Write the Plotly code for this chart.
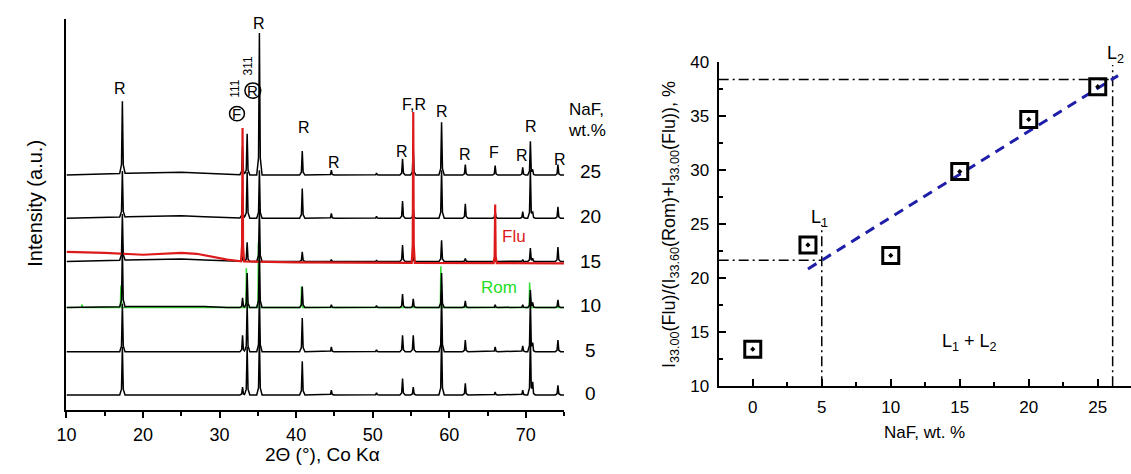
import numpy as np
import plotly.graph_objects as go

W, H = 1131, 474
FONT = "Arial, Liberation Sans, sans-serif"

# ---------------- Left panel data (XRD patterns, intensity in a.u.) ----------------
naf_levels = ["0", "5", "10", "15", "20", "25"]
baselines = [16, 61, 107, 155, 200, 245]          # vertical offset of each pattern

peak_pos = [17.3, 33.0, 33.6, 35.2, 40.8, 44.6, 50.5, 53.9, 55.3, 59.0, 62.1, 66.0, 69.6, 70.6, 70.9, 74.2]
h_0  = [50,  8, 50,  60, 35, 5, 2, 17,  8, 60, 12,  3, 5, 60, 12, 10]
h_5  = [50, 17, 50,  60, 35, 5, 2, 17, 17, 60, 12,  5, 6, 55,  8, 12]
h_10 = [60, 10, 36,  60, 22, 3, 2, 14,  9, 36,  7,  3, 3, 18,  5,  8]
h_15 = [48,  5, 20,  55, 10, 2, 1, 17,  5, 22,  3,  2, 2, 14,  3, 15]
h_20 = [48, 25, 48,  50, 31, 5, 2, 18, 10, 50, 15,  7, 7, 50,  6, 12]
h_25 = [75, 30, 43, 148, 25, 5, 2, 17, 28, 55, 11, 10, 8, 35,  5, 11]
heights = [h_0, h_5, h_10, h_15, h_20, h_25]

hump_x = [10, 14, 18, 22, 25, 28, 31, 34, 75]
hump_0  = [0, 0, 0, 0, 0, 0, 0, 0, 0]
hump_5  = [0, 0, 0, 0, 0, 0, 0, 0, 0]
hump_10 = [0, 0, 1, 1.2, 1.2, 1, 0, 0, 0]
hump_15 = [0, 0.5, 1.5, 2.5, 2.5, 1.5, 0.5, 0, 0]
hump_20 = [0, 0.5, 1.5, 2.5, 2.5, 1.5, 0.5, 0, 0]
hump_25 = [0, 1, 2, 3, 3, 2, 0.8, 0, 0]
humps = [hump_0, hump_5, hump_10, hump_15, hump_20, hump_25]

# Flu reference (red)
flu_base = 154
flu_bg_x = [10, 15, 20, 23, 25, 27, 29, 31, 33, 35, 40, 75]
flu_bg_y = [11, 10, 8, 9, 10, 9, 6, 3, 1, 0.5, 0, -1]
flu_pos = [33.0, 55.3, 66.0]
flu_h = [139, 157, 61]

# Rom reference (green)
rom_base = 107
rom_bg_x = [10, 75]
rom_bg_y = [0, 0]
rom_pos = [12.0, 17.1, 33.5, 35.07, 40.7, 58.9, 70.5]
rom_h = [3, 23, 41, 68, 22, 43, 26]

# ---------------- Right panel data ----------------
naf_wt = [0, 4, 10, 15, 20, 25]
ratio = [13.43, 23.07, 22.1, 29.85, 34.67, 37.7]
fit_x = [4.0, 26.47]
fit_y = [20.85, 38.72]
guide_x = [5.0, 26.08]       # L1, L2 compositions
guide_y = [21.65, 38.37]     # corresponding ratio levels
guide_top = [24.9, 39.7]     # top ends of vertical guides
X2_RANGE = [-2.47, 27.41]
Y2_RANGE = [10, 40]


def pattern(base, bx, by, pos, hts, hw=0.35):
    offs = np.array([-hw, -hw / 3, 0, hw / 3, hw])
    fr = np.array([0, 0.12, 1, 0.12, 0])
    xs = set(bx)
    for p in pos:
        xs.update((p + offs).tolist())
    xs = np.array(sorted(xs))
    ys = base + np.interp(xs, bx, by)
    for p, h in zip(pos, hts):
        ys = ys + h * np.interp(xs, p + offs, fr, left=0, right=0)
    return xs, ys


fig = go.Figure()

def add_line(xs, ys, color, width):
    fig.add_trace(go.Scatter(x=xs, y=ys, mode="lines", line=dict(color=color, width=width),
                             xaxis="x", yaxis="y", showlegend=False, hoverinfo="skip"))

# green Rom reference (under everything)
gx, gy = pattern(rom_base, rom_bg_x, rom_bg_y, rom_pos, rom_h, hw=0.15)
add_line(gx, gy, "#33dd33", 1.5)

# upper black patterns 25, 20, 15
for i in [5, 4, 3]:
    x, y = pattern(baselines[i], hump_x, humps[i], peak_pos, heights[i])
    add_line(x, y, "black", 1.5)

# red Flu reference
rx, ry = pattern(flu_base, flu_bg_x, flu_bg_y, flu_pos, flu_h, hw=0.2)
add_line(rx, ry, "#dd1a1a", 2.2)

# lower black patterns 10, 5, 0
for i in [2, 1, 0]:
    x, y = pattern(baselines[i], hump_x, humps[i], peak_pos, heights[i])
    add_line(x, y, "black", 1.5)

# ---------------- Right panel traces ----------------
dd = "10px,4px,2px,4px"
for gxv, gyv, gt in zip(guide_x, guide_y, guide_top):
    fig.add_trace(go.Scatter(x=[X2_RANGE[0], gxv], y=[gyv, gyv], mode="lines",
                             line=dict(color="black", width=1.5, dash=dd),
                             xaxis="x2", yaxis="y2", showlegend=False, hoverinfo="skip"))
    fig.add_trace(go.Scatter(x=[gxv, gxv], y=[Y2_RANGE[0], gt], mode="lines",
                             line=dict(color="black", width=1.5, dash=dd),
                             xaxis="x2", yaxis="y2", showlegend=False, hoverinfo="skip"))

fig.add_trace(go.Scatter(x=fit_x, y=fit_y, mode="lines",
                         line=dict(color="#1e1ea8", width=3, dash="10px,7px"),
                         xaxis="x2", yaxis="y2", showlegend=False, hoverinfo="skip"))
fig.add_trace(go.Scatter(x=naf_wt, y=ratio, mode="markers",
                         marker=dict(symbol="square-open-dot", size=16, color="black",
                                     line=dict(color="black", width=3)),
                         xaxis="x2", yaxis="y2", showlegend=False, hoverinfo="skip"))

# ---------------- Layout ----------------
L_X0, L_X1, L_YTOP, L_YBOT = 57, 559, 10, 418
R_X0, R_YTOP, R_YBOT = 715, 55, 393

axis_common = dict(showgrid=False, zeroline=False, linecolor="black", linewidth=2,
                   showline=True, tickcolor="black")

fig.update_layout(
    width=W, height=H, margin=dict(l=0, r=0, t=0, b=0),
    paper_bgcolor="white", plot_bgcolor="white",
    xaxis=dict(domain=[L_X0 / W, L_X1 / W], range=[10, 75], anchor="y",
               ticks="outside", ticklen=6, tickwidth=1.5, dtick=10, tick0=10,
               ticklabelstandoff=1,
               tickfont=dict(family=FONT, size=18, color="black"),
               minor=dict(ticks="outside", ticklen=4, tickwidth=1.5, dtick=5, tick0=10,
                          tickcolor="black"),
               **axis_common),
    yaxis=dict(domain=[1 - L_YBOT / H, 1 - L_YTOP / H], range=[0, 408], anchor="x",
               ticks="", showticklabels=False, **axis_common),
    xaxis2=dict(domain=[R_X0 / W, 1.0], range=X2_RANGE, anchor="y2",
                ticks="inside", ticklen=7, tickwidth=1.5, dtick=5, tick0=0,
                ticklabelstandoff=4,
                tickfont=dict(family=FONT, size=17, color="black"),
                minor=dict(ticks="inside", ticklen=4, tickwidth=1.5, dtick=2.5, tick0=0,
                           tickcolor="black"),
                **axis_common),
    yaxis2=dict(domain=[1 - R_YBOT / H, 1 - R_YTOP / H], range=Y2_RANGE, anchor="x2",
                ticks="inside", ticklen=7, tickwidth=1.5, dtick=5, tick0=10,
                ticklabelstandoff=4,
                tickfont=dict(family=FONT, size=17, color="black"),
                minor=dict(ticks="inside", ticklen=4, tickwidth=1.5, dtick=2.5, tick0=10,
                           tickcolor="black"),
                **axis_common),
)

ann = []

def pann(text, px, py, size, color="black", angle=0, xanchor="center"):
    ann.append(dict(text=text, x=px / W, y=1 - py / H, xref="paper", yref="paper",
                    showarrow=False, textangle=angle, xanchor=xanchor, yanchor="middle",
                    font=dict(family=FONT, size=size, color=color)))

# axis titles
pann("Intensity (a.u.)", 25, 202, 20, angle=-90)
pann("2Θ (°), Co Kα", 315, 464, 19)
pann("NaF, wt. %", 923, 441, 17)
pann("I<sub>33.00</sub>(Flu)/(I<sub>33.60</sub>(Rom)+I<sub>33.00</sub>(Flu)), %", 667, 225, 18, angle=-90)

# NaF labels on the right of XRD patterns
pann("NaF,", 582, 105, 17)
pann("wt.%", 582, 127, 17)
for lab, py in zip(naf_levels, [401, 356, 309, 263, 216, 169]):
    pann(lab, 586, py, 19)

pann("Flu", 508, 237, 17, color="#dd1a1a")
pann("Rom", 493, 290, 17, color="#22dd22")

# phase labels (px positions)
phase_labels = [("R", 111, 83), ("R", 251, 15), ("R", 297, 123), ("R", 327, 160),
                ("R", 396, 148), ("F,R", 408, 99), ("R", 436, 107), ("R", 459, 152),
                ("F", 488, 150), ("R", 517, 153), ("R", 526, 122), ("R", 555, 157)]
for t, px, py in phase_labels:
    pann(t, px, py, 16)

pann("111", 227, 82, 12, angle=-90)
pann("311", 240, 59, 12, angle=-90)
pann("F", 229, 109, 15)
pann("R", 245, 85, 15)

# right panel labels
pann("L<sub>1</sub>", 817, 218, 18)
pann("L<sub>2</sub>", 1115, 47, 18)
pann("L<sub>1</sub> + L<sub>2</sub>", 968, 347, 18)

fig.update_layout(annotations=ann)

shapes = []
for cx, cy, r in [(229, 109, 7.5), (245, 85, 8)]:
    shapes.append(dict(type="circle", xref="paper", yref="paper",
                       x0=(cx - r) / W, x1=(cx + r) / W, y0=1 - (cy + r) / H, y1=1 - (cy - r) / H,
                       line=dict(color="black", width=1.5)))
fig.update_layout(shapes=shapes)

fig.write_html("out.html", config={"displayModeBar": False},
               post_script="document.body.style.margin='0';document.body.style.padding='0';"
                           "document.body.style.overflow='hidden';")
